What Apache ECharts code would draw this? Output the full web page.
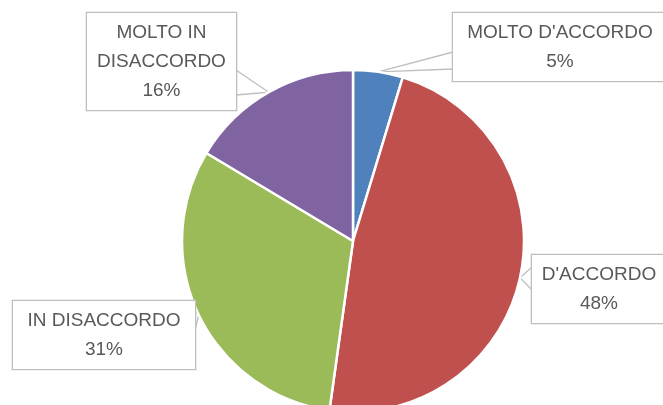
<!DOCTYPE html>
<html>
<head>
<meta charset="utf-8">
<script src="https://cdn.jsdelivr.net/npm/echarts@6/dist/echarts.min.js"></script>
<style>
  * { margin: 0; padding: 0; }
  html, body { width: 663px; height: 405px; background: #fff; overflow: hidden; }
  #main { width: 663px; height: 405px; }
</style>
</head>
<body>
<div id="main"></div>
<script>
// dati del grafico
var categories = ["MOLTO D'ACCORDO", "D'ACCORDO", "IN DISACCORDO", "MOLTO IN\nDISACCORDO"];
var values = [4.7, 47.5, 31.4, 16.4];
var colors = ["#4f81bd", "#c0504d", "#9bbb59", "#8064a2"];

// posizione dei riquadri etichetta (centro x, top y, larghezza testo, lato, base del cuneo)
var boxes = [
  { cx: 560, top: 13, w: 198, side: "left", wedge: [39, 56] },
  { cx: 599, top: 255, w: 118, side: "left", wedge: [12, 35] },
  { cx: 104, top: 301, w: 166, side: "right", wedge: [11, 29] },
  { cx: 161.5, top: 13, w: 133, side: "right", wedge: [57, 82] }
];
var padX = 8;

var chart = echarts.init(document.getElementById("main"));

var data = categories.map(function (name, i) {
  return {
    name: name,
    value: values[i],
    itemStyle: { color: colors[i] },
    label: { width: boxes[i].w }
  };
});

chart.setOption({
  animation: false,
  series: [
    {
      type: "pie",
      center: [353, 241],
      radius: 171,
      startAngle: 90,
      clockwise: true,
      percentPrecision: 0,
      avoidLabelOverlap: false,
      itemStyle: { borderColor: "#ffffff", borderWidth: 2.5 },
      label: {
        show: true,
        position: "outside",
        formatter: "{b}\n{d}%",
        fontFamily: "'Liberation Sans', Arial, sans-serif",
        fontSize: 19,
        lineHeight: 29,
        color: "#595959",
        align: "center",
        overflow: "none",
        backgroundColor: "#ffffff",
        borderColor: "#bfbfbf",
        borderWidth: 1.3,
        padding: [5, padX]
      },
      labelLine: {
        show: true,
        lineStyle: { color: "#bfbfbf", width: 1.3 }
      },
      labelLayout: function (params) {
        var b = boxes[params.dataIndex];
        var tip = params.labelLinePoints ? params.labelLinePoints[0] : [b.cx, b.top];
        var edgeX = b.side === "left" ? b.cx - b.w / 2 - padX : b.cx + b.w / 2 + padX;
        return {
          x: b.cx,
          y: b.top,
          align: "center",
          verticalAlign: "top",
          labelLinePoints: [
            [edgeX, b.top + b.wedge[0]],
            tip,
            [edgeX, b.top + b.wedge[1]]
          ]
        };
      },
      data: data
    }
  ]
});
</script>
</body>
</html>
